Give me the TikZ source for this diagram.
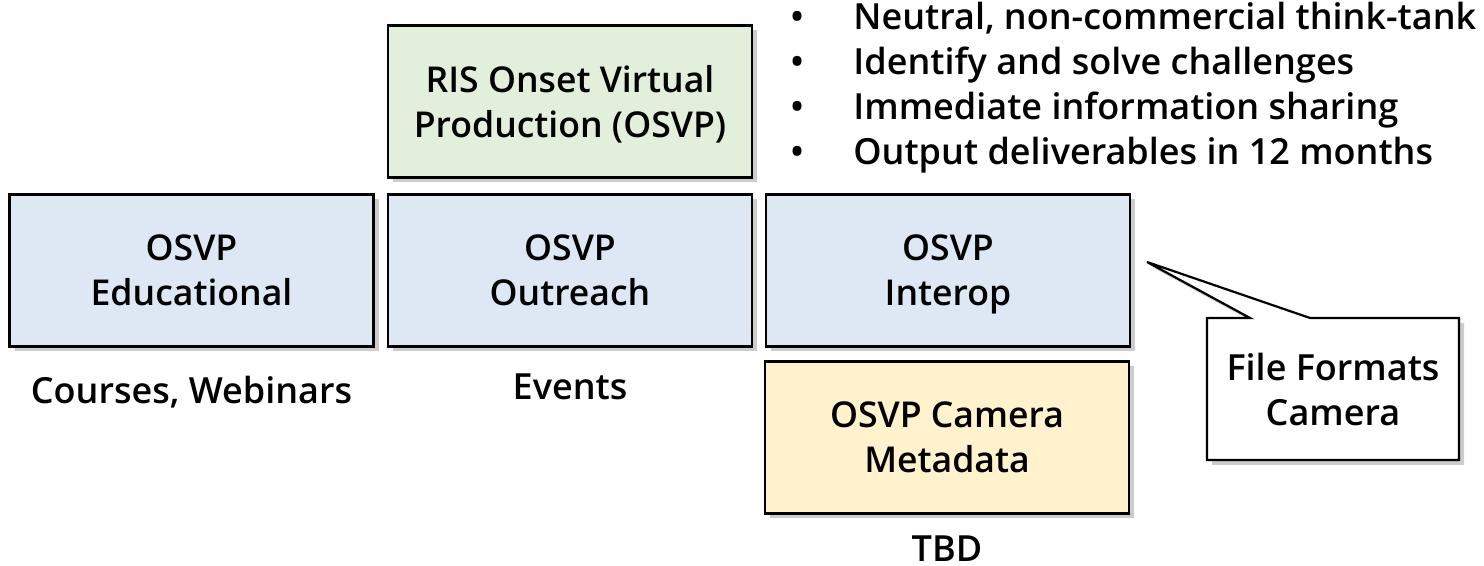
\documentclass[tikz,border=0pt]{standalone}
\usepackage{fontspec}
\setmainfont{Open Sans}[UprightFont={* Semibold}]
\usetikzlibrary{shadows}
\definecolor{osvpblue}{RGB}{222,232,245}
\definecolor{osvpgreen}{RGB}{226,239,218}
\definecolor{osvpyellow}{RGB}{255,242,204}
\tikzset{
    osvpbox/.style={draw=black, line width=1.1pt, minimum width=182pt, minimum height=76pt,
        align=center, text depth=0pt, font=\fontsize{17.8}{22.5}\selectfont,
        drop shadow={shadow xshift=2.5pt, shadow yshift=-2.5pt, opacity=0.4}},
    plaintext/.style={inner sep=0pt, font=\fontsize{18}{22.5}\selectfont},
}
\begin{document}
\begin{tikzpicture}[x=0.5pt, y=-0.5pt]
    % Page frame
    \useasboundingbox (0, 0) rectangle (1484, 566);
    % Main boxes
    \node [osvpbox, fill=osvpgreen] (ris) at (570, 101.5) {RIS Onset Virtual\\Production (OSVP)};
    \node [osvpbox, fill=osvpblue] (educ) at (191.5, 270.5) {OSVP\\Educational};
    \node [osvpbox, fill=osvpblue] (outr) at (570, 270.5) {OSVP\\Outreach};
    \node [osvpbox, fill=osvpblue] (interop) at (948, 270.5) {OSVP\\Interop};
    \node [osvpbox, fill=osvpyellow] (camera) at (947, 437.5) {OSVP Camera\\Metadata};
    % Notes under the boxes
    \node [plaintext] (leduc) at (191.5, 392) {Courses, Webinars};
    \node [plaintext] (loutr) at (570, 387) {Events};
    \node [plaintext] (lcamera) at (947, 549) {TBD};
    % Goals
    \node [plaintext, anchor=base west] (goala) at (790, 30) {\makebox[31.5pt][l]{\textbullet}Neutral, non-commercial think-tank};
    \node [plaintext, anchor=base west] (goalb) at (790, 75) {\makebox[31.5pt][l]{\textbullet}Identify and solve challenges};
    \node [plaintext, anchor=base west] (goalc) at (790, 120) {\makebox[31.5pt][l]{\textbullet}Immediate information sharing};
    \node [plaintext, anchor=base west] (goald) at (790, 165) {\makebox[31.5pt][l]{\textbullet}Output deliverables in 12 months};
    % Callout for the interop box
    \coordinate (tip) at (1147, 262);
    \draw [line width=1.1pt, fill=white, drop shadow={shadow xshift=2.5pt, shadow yshift=-2.5pt, opacity=0.4}]
        (1207, 318) -- (1250, 318) -- (tip) -- (1310, 318) -- (1459, 318)
        -- (1459, 460) -- (1207, 460) -- cycle;
    \node [plaintext, align=center] (formats) at (1333, 390) {File Formats\\Camera};
\end{tikzpicture}
\end{document}
